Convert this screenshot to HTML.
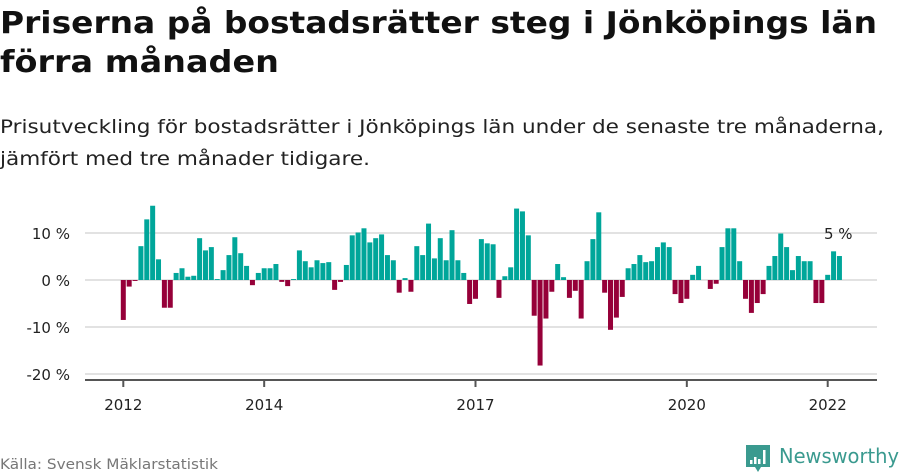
<!DOCTYPE html>
<html><head><meta charset="utf-8"><style>
html,body{margin:0;padding:0;background:#fff;}
svg{display:block;font-family:"DejaVu Sans","Liberation Sans",sans-serif;}
</style></head><body>
<svg id="chart" width="900" height="474" viewBox="0 0 900 474">
<text x="0" y="33" font-size="30" font-weight="bold" fill="#111" textLength="877" lengthAdjust="spacingAndGlyphs">Priserna på bostadsrätter steg i Jönköpings län</text>
<text x="0" y="72" font-size="30" font-weight="bold" fill="#111" textLength="279" lengthAdjust="spacingAndGlyphs">förra månaden</text>
<text x="0" y="133" font-size="19" fill="#222" textLength="884" lengthAdjust="spacingAndGlyphs">Prisutveckling för bostadsrätter i Jönköpings län under de senaste tre månaderna,</text>
<text x="0" y="165" font-size="19" fill="#222" textLength="370" lengthAdjust="spacingAndGlyphs">jämfört med tre månader tidigare.</text>
<g id="grid"></g>
<g id="bars"></g>
<g id="axis"></g>
<text x="824" y="239" font-size="15" fill="#222">5 %</text>
<text x="0" y="469" font-size="14" fill="#777" textLength="218" lengthAdjust="spacingAndGlyphs">Källa: Svensk Mäklarstatistik</text>
<g>
<path d="M746 445 h24 v22 h-9 l-3 5 l-3 -5 h-9 z" fill="#3a9a8f"/>
<rect x="750" y="460" width="2.5" height="4" fill="#fff"/>
<rect x="754" y="457" width="2.5" height="7" fill="#fff"/>
<rect x="758" y="459" width="2.5" height="5" fill="#fff"/>
<rect x="763" y="450" width="2.5" height="14" fill="#fff"/>
<text x="779" y="463" font-size="20" fill="#3a9a8f" textLength="120" lengthAdjust="spacingAndGlyphs">Newsworthy</text>
</g>
</svg>
<script>
const values = [-8.5,-1.4,-0.2,7.2,12.9,15.8,4.4,-5.9,-5.9,1.5,2.5,0.7,
0.9,8.9,6.3,7.0,0.2,2.1,5.3,9.1,5.7,3.0,-1.1,1.5,
2.5,2.5,3.4,-0.4,-1.3,0.2,6.3,4.0,2.7,4.2,3.6,3.8,
-2.1,-0.4,3.2,9.5,10.1,11.0,8.0,8.9,9.7,5.3,4.2,-2.7,
0.4,-2.5,7.2,5.3,12.0,4.6,8.9,4.2,10.6,4.2,1.5,-5.1,
-4.0,8.7,7.8,7.6,-3.8,0.8,2.7,15.2,14.6,9.5,-7.6,-18.2,
-8.2,-2.5,3.4,0.6,-3.8,-2.3,-8.2,4.0,8.7,14.4,-2.7,-10.6,
-8.0,-3.6,2.5,3.4,5.3,3.8,4.0,7.0,8.0,7.0,-3.0,-4.9,
-4.0,1.1,3.0,0,-1.9,-0.8,7.0,11.0,11.0,4.0,-4.0,-7.0,
-4.9,-3.0,3.0,5.1,9.9,7.0,2.1,5.1,4.0,4.0,-4.9,-4.9,
1.1,6.1,5.1];
const yTicks = [10,0,-10,-20];
const yTickLabels = ["10 %","0 %","-10 %","-20 %"];
const xTickIdx = [0,24,60,96,120];
const xTickLabels = ["2012","2014","2017","2020","2022"];
const NS="http://www.w3.org/2000/svg";
const x = i => 123.3 + i*5.87;
const y = v => 280 - v*4.7;
function mk(tag, attrs, parent){const e=document.createElementNS(NS,tag);for(const k in attrs)e.setAttribute(k,attrs[k]);parent.appendChild(e);return e;}
const grid=document.getElementById('grid'), bars=document.getElementById('bars'), axis=document.getElementById('axis');
yTicks.forEach((t,k)=>{
  const l=mk('line',{x1:85,x2:877,y1:y(t),y2:y(t),stroke:'#e2e2e2','stroke-width':2},grid);
  
  
  const tx=mk('text',{x:70,y:y(t)+6,'font-size':15,fill:'#222','text-anchor':'end'},grid);
  tx.textContent=yTickLabels[k];
  
  
});
values.forEach((v,i)=>{
  const r=mk('rect',{x:x(i)-2.5,width:5,y:Math.min(y(v),y(0)),height:Math.abs(y(v)-y(0)),fill:v>=0?'#00a69a':'#960039'},bars);
  
  
});
const al=mk('line',{x1:85,x2:877,y1:380,y2:380,stroke:'#555','stroke-width':2},axis);


xTickIdx.forEach((idx,k)=>{
  const t=mk('line',{x1:x(idx),x2:x(idx),y1:380,y2:387,stroke:'#555','stroke-width':2},axis);
  
  
  const tx=mk('text',{x:x(idx),y:410,'font-size':15,fill:'#222','text-anchor':'middle'},axis);
  tx.textContent=xTickLabels[k];
  
  
});
</script>
</body></html>
